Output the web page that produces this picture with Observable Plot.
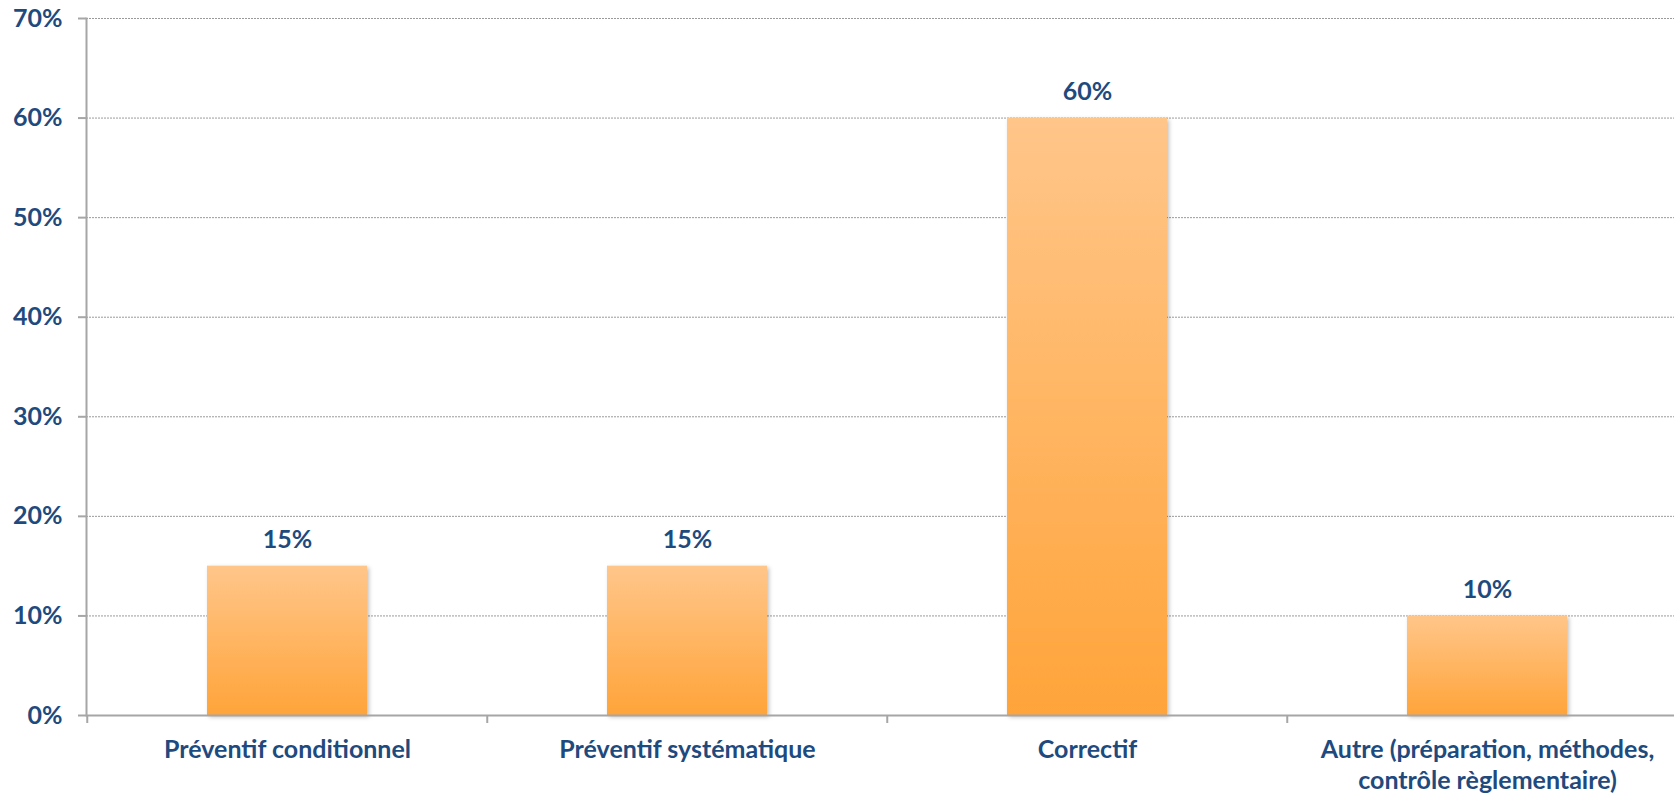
<!DOCTYPE html>
<html>
<head>
<meta charset="utf-8">
<script src="https://cdn.jsdelivr.net/npm/d3@7"></script>
<script src="https://cdn.jsdelivr.net/npm/@observablehq/plot@0.6"></script>
<style>
  html, body { margin: 0; padding: 0; background: #fff; }
  svg { display: block; }
</style>
</head>
<body>
<div id="chart"></div>
<script>
const categories = [
  "Préventif conditionnel",
  "Préventif systématique",
  "Correctif",
  "Autre (préparation, méthodes,\ncontrôle règlementaire)"
];
const values = [15, 15, 60, 10];
const yTicks = [0, 10, 20, 30, 40, 50, 60, 70];
const tickLabels = yTicks.map(d => d + "%");

const data = categories.map((c, i) => ({ cat: c, value: values[i] }));

const textColor = "#1F4A7E";
const axisColor = "#A6A6A6";
const font = "Lato, 'Open Sans', sans-serif";
const fs = 25;

const xOpts = { domain: categories, range: [86, 1688], paddingInner: 0.6, paddingOuter: 0.3 };
const xs = Plot.scale({ x: { type: "band", ...xOpts } });
const step = xs.step;

const chart = Plot.plot({
  width: 1674,
  height: 796,
  marginTop: 18,
  marginBottom: 81,
  marginLeft: 86,
  marginRight: 0,
  style: { fontFamily: font, background: "#fff" },
  x: { ...xOpts, axis: null },
  y: { domain: [0, 70], axis: null },
  marks: [
    Plot.gridY(yTicks.slice(1), { stroke: "#9a9a9a", strokeOpacity: 1, strokeWidth: 1, strokeDasharray: "2,1" }),
    Plot.barY(data, { x: "cat", y: "value", fill: "url(#barGrad)", className: "bars" }),
    Plot.text(data, {
      x: "cat", y: "value", text: d => d.value + "%", dy: -26,
      fontSize: fs, fontWeight: "bold", fill: textColor, lineAnchor: "middle"
    }),
    Plot.ruleY([0], { stroke: axisColor, strokeWidth: 2 }),
    Plot.ruleX(categories, { x: d => d, y1: 0, y2: 0, insetBottom: -8, dx: -step / 2, stroke: axisColor, strokeWidth: 2 }),
    Plot.frame({ anchor: "left", stroke: axisColor, strokeWidth: 2 }),
    Plot.axisY({
      ticks: yTicks, tickFormat: d => tickLabels[yTicks.indexOf(d)], label: null,
      tickSize: 8, tickPadding: 16, stroke: axisColor, strokeWidth: 2,
      fill: textColor, fontSize: fs, fontWeight: "bold"
    }),
    Plot.axisX({
      tickSize: 0, tickPadding: 20, fill: textColor, fontSize: fs, fontWeight: "bold",
      lineHeight: 1.26, label: null
    })
  ]
});

const svg = d3.select(chart);
const defs = svg.insert("defs", ":first-child");
const grad = defs.append("linearGradient").attr("id", "barGrad")
  .attr("x1", 0).attr("y1", 0).attr("x2", 0).attr("y2", 1);
grad.append("stop").attr("offset", "0%").attr("stop-color", "#FFC68A");
grad.append("stop").attr("offset", "100%").attr("stop-color", "#FFA43A");
const f = defs.append("filter").attr("id", "shadow").attr("x", "-10%").attr("y", "-10%").attr("width", "130%").attr("height", "130%");
f.append("feDropShadow").attr("dx", 2).attr("dy", 2).attr("stdDeviation", 2).attr("flood-color", "#000").attr("flood-opacity", 0.25);
svg.selectAll(".bars rect").attr("filter", "url(#shadow)");

document.getElementById("chart").appendChild(chart);
</script>
</body>
</html>
